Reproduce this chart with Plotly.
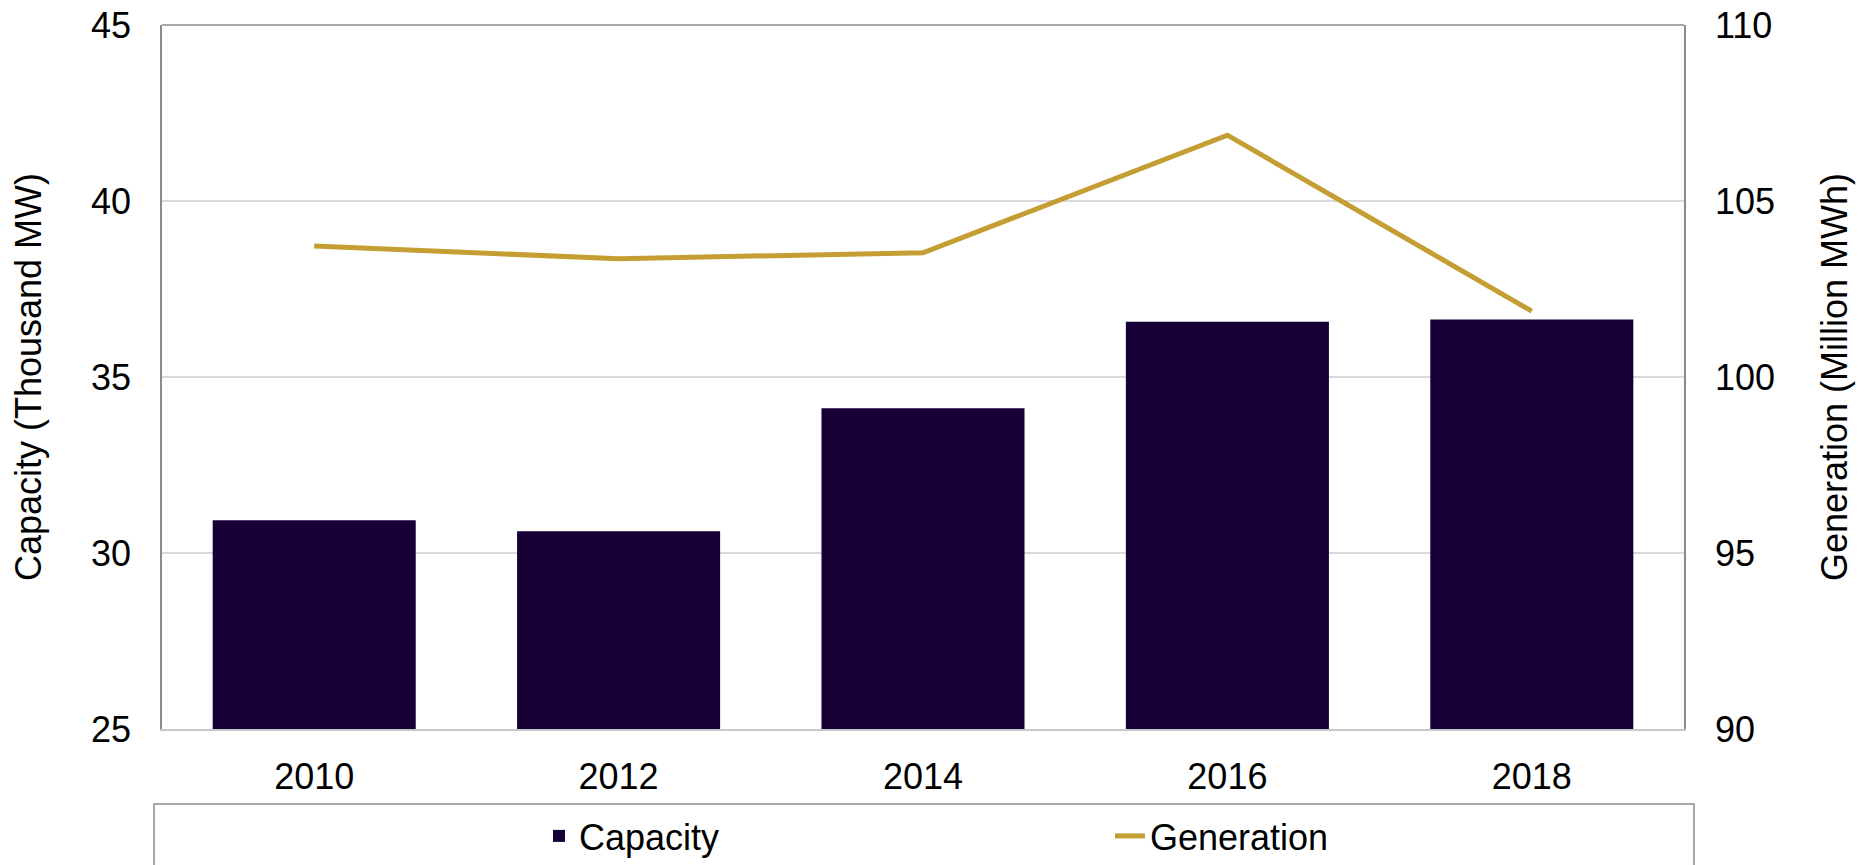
import plotly.graph_objects as go

years = ["2010", "2012", "2014", "2016", "2018"]
capacity = [30.93, 30.62, 34.11, 36.57, 36.63]
generation = [103.72, 103.36, 103.53, 106.87, 101.87]
left_ticks = [25, 30, 35, 40, 45]
right_ticks = [90, 95, 100, 105, 110]

BAR = "#170036"
GOLD = "#C49E32"
FONT = "Liberation Sans, Arial, sans-serif"

fig = go.Figure()
fig.add_trace(go.Bar(x=years, y=capacity, name="Capacity", marker_color=BAR,
                     marker_line_width=0, yaxis="y"))
fig.add_trace(go.Scatter(x=years, y=generation, name="Generation", mode="lines",
                         line=dict(color=GOLD, width=5), yaxis="y2"))

W, H = 1866, 865
L, R, T, B = 162, 1684, 25, 729

fig.update_layout(
    width=W, height=H,
    margin=dict(l=L, r=W - R, t=T, b=H - B, autoexpand=False),
    paper_bgcolor="white", plot_bgcolor="white",
    font=dict(family=FONT, size=36, color="black"),
    bargap=0.333,
    showlegend=True,
    legend=dict(orientation="h", x=(539 - L) / (R - L), xanchor="left",
                y=(B - 836) / (B - T), yanchor="middle",
                font=dict(size=36), entrywidth=526, entrywidthmode="pixels",
                bgcolor="rgba(0,0,0,0)", borderwidth=0, traceorder="normal"),
    xaxis=dict(type="category", showgrid=False, showline=True, linecolor="#C8C8C8",
               linewidth=1.5, ticks="", ticklabelstandoff=15),
    yaxis=dict(range=[25, 45], tickvals=left_ticks, showgrid=True, gridcolor="#D9D9D9",
               gridwidth=1.5, showline=True, linecolor="#8C8C8C", linewidth=1.5,
               ticks="", ticklabelstandoff=22, zeroline=False, ticklabeloverflow="allow",
               title=dict(text="Capacity (Thousand MW)", standoff=38, font=dict(size=36))),
    yaxis2=dict(range=[90, 110], tickvals=right_ticks, overlaying="y", side="right",
                showgrid=False, showline=True, linecolor="#8C8C8C", linewidth=1.5,
                ticks="", ticklabelstandoff=22, zeroline=False, ticklabeloverflow="allow",
                title=dict(text="Generation (Million MWh)", standoff=48, font=dict(size=36))),
)

# top frame line
fig.add_shape(type="line", xref="paper", yref="paper", x0=0, x1=1, y0=1, y1=1,
              line=dict(color="#8C8C8C", width=1.5))
# legend frame
fig.add_shape(type="rect", xref="paper", yref="paper",
              x0=(154 - L) / (R - L), x1=(1694 - L) / (R - L),
              y0=(B - 804) / (B - T), y1=(B - 890) / (B - T),
              line=dict(color="#8C8C8C", width=1.5), fillcolor="rgba(0,0,0,0)", layer="below")

fig.write_html("out.html", config={"displayModeBar": False},
               post_script="document.body.style.margin='0';document.body.style.overflow='hidden';")
